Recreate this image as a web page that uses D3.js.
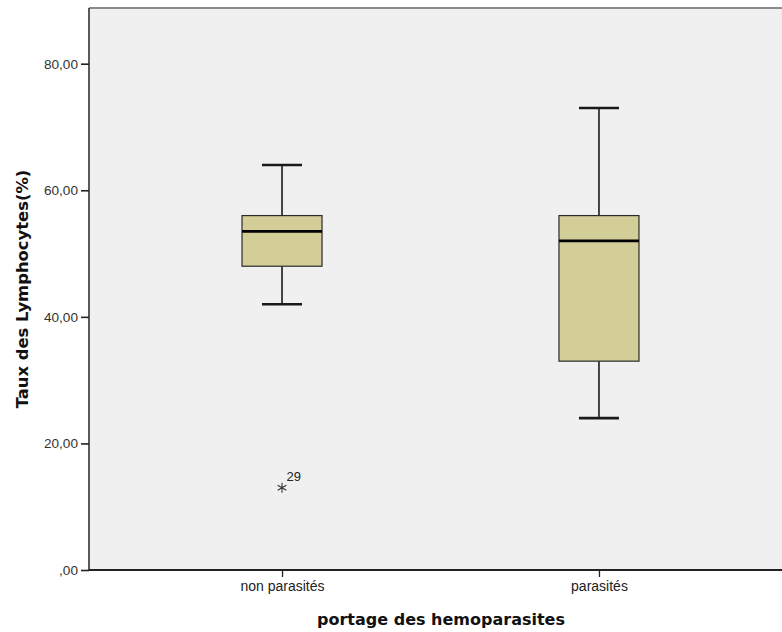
<!DOCTYPE html>
<html>
<head>
<meta charset="utf-8">
<script src="https://cdn.jsdelivr.net/npm/d3@7"></script>
<style>
  html, body { margin: 0; padding: 0; background: #fff; }
  svg { display: block; }
</style>
</head>
<body>
<svg id="chart" width="782" height="632"></svg>
<script>
// ---- data ----
const categories = ["non parasités", "parasités"];
const whiskerLow  = [42, 24];
const q1Values    = [48, 33];
const medians     = [53.5, 52];
const q3Values    = [56, 56];
const whiskerHigh = [64, 73];
const outlierValues = [13];
const outlierCategories = ["non parasités"];
const outlierLabels = ["29"];
const yTickValues = [0, 20, 40, 60, 80];
const yTickLabels = [",00", "20,00", "40,00", "60,00", "80,00"];
const xTitle = "portage des hemoparasites";
const yTitle = "Taux des Lymphocytes(%)";

// ---- layout ----
const svg = d3.select("#chart");
const plot = { left: 89, top: 8, right: 792, bottom: 570 };

const y = d3.scaleLinear().domain([0, 88.8]).range([plot.bottom, plot.top]);
const x = d3.scalePoint().domain(categories).range([plot.left, plot.right]).padding(0.609);

const boxW = 80, capW = 40;
const boxFill = "#d3ce97";

// background
svg.append("rect")
  .attr("x", plot.left).attr("y", plot.top)
  .attr("width", plot.right - plot.left).attr("height", plot.bottom - plot.top)
  .attr("fill", "#f0f0f0");
// top frame
svg.append("line")
  .attr("x1", plot.left).attr("x2", plot.right)
  .attr("y1", plot.top).attr("y2", plot.top)
  .attr("stroke", "#8a8a8a").attr("stroke-width", 2);

const rows = categories.map((c, i) => ({
  c, lo: whiskerLow[i], q1: q1Values[i], med: medians[i], q3: q3Values[i], hi: whiskerHigh[i]
}));

const g = svg.append("g");
rows.forEach(d => {
  const cx = x(d.c);
  // whiskers
  g.append("line").attr("x1", cx).attr("x2", cx).attr("y1", y(d.hi)).attr("y2", y(d.q3))
    .attr("stroke", "#1a1a1a").attr("stroke-width", 1.6);
  g.append("line").attr("x1", cx).attr("x2", cx).attr("y1", y(d.q1)).attr("y2", y(d.lo))
    .attr("stroke", "#1a1a1a").attr("stroke-width", 1.6);
  // caps
  [d.hi, d.lo].forEach(v => {
    g.append("line").attr("x1", cx - capW / 2).attr("x2", cx + capW / 2)
      .attr("y1", y(v)).attr("y2", y(v))
      .attr("stroke", "#1a1a1a").attr("stroke-width", 2.6);
  });
  // box
  g.append("rect")
    .attr("x", cx - boxW / 2).attr("y", y(d.q3))
    .attr("width", boxW).attr("height", y(d.q1) - y(d.q3))
    .attr("fill", boxFill).attr("stroke", "#2a2a2a").attr("stroke-width", 1.2);
  // median
  g.append("line").attr("x1", cx - boxW / 2).attr("x2", cx + boxW / 2)
    .attr("y1", y(d.med)).attr("y2", y(d.med))
    .attr("stroke", "#000").attr("stroke-width", 2.8);
});

// outliers
const star = d3.symbol().type(d3.symbolAsterisk).size(70);
outlierValues.forEach((v, i) => {
  const cx = x(outlierCategories[i]);
  g.append("path").attr("d", star())
    .attr("transform", `translate(${cx},${y(v)})`)
    .attr("fill", "none").attr("stroke", "#333").attr("stroke-width", 1.1);
  g.append("text").attr("x", cx + 4.5).attr("y", y(v) - 7)
    .attr("font-family", "Liberation Sans, Arial, sans-serif")
    .attr("font-size", 13).attr("fill", "#222").text(outlierLabels[i]);
});

// y axis
const yAxis = d3.axisLeft(y).tickValues(yTickValues)
  .tickFormat((d, i) => yTickLabels[i]).tickSize(8).tickPadding(3);
const ya = svg.append("g").attr("transform", `translate(${plot.left},0)`).call(yAxis);
ya.select(".domain").attr("stroke", "#333").attr("stroke-width", 1.6).attr("d", `M0,${plot.top}V${plot.bottom}`);
ya.selectAll(".tick line").attr("stroke", "#222").attr("stroke-width", 1.6);
ya.selectAll(".tick text").attr("font-family", "Liberation Sans, Arial, sans-serif")
  .attr("font-size", 13.6).attr("fill", "#333");

// x axis
const xAxis = d3.axisBottom(x).tickSize(7).tickPadding(4);
const xa = svg.append("g").attr("transform", `translate(0,${plot.bottom})`).call(xAxis);
xa.select(".domain").attr("stroke", "#222").attr("stroke-width", 2).attr("d", `M${plot.left},0H${plot.right}`);
xa.selectAll(".tick line").attr("stroke", "#222").attr("stroke-width", 1.3);
xa.selectAll(".tick text").attr("font-family", "Liberation Sans, Arial, sans-serif")
  .attr("font-size", 14).attr("fill", "#222");

// titles
svg.append("text").attr("x", 441).attr("y", 625)
  .attr("text-anchor", "middle")
  .attr("font-family", "DejaVu Sans, sans-serif").attr("font-weight", "bold")
  .attr("font-size", 16).attr("fill", "#111").text(xTitle);
svg.append("text")
  .attr("transform", "translate(28,289) rotate(-90)")
  .attr("text-anchor", "middle")
  .attr("font-family", "DejaVu Sans, sans-serif").attr("font-weight", "bold")
  .attr("font-size", 16.4).attr("fill", "#111").text(yTitle);
</script>
</body>
</html>
